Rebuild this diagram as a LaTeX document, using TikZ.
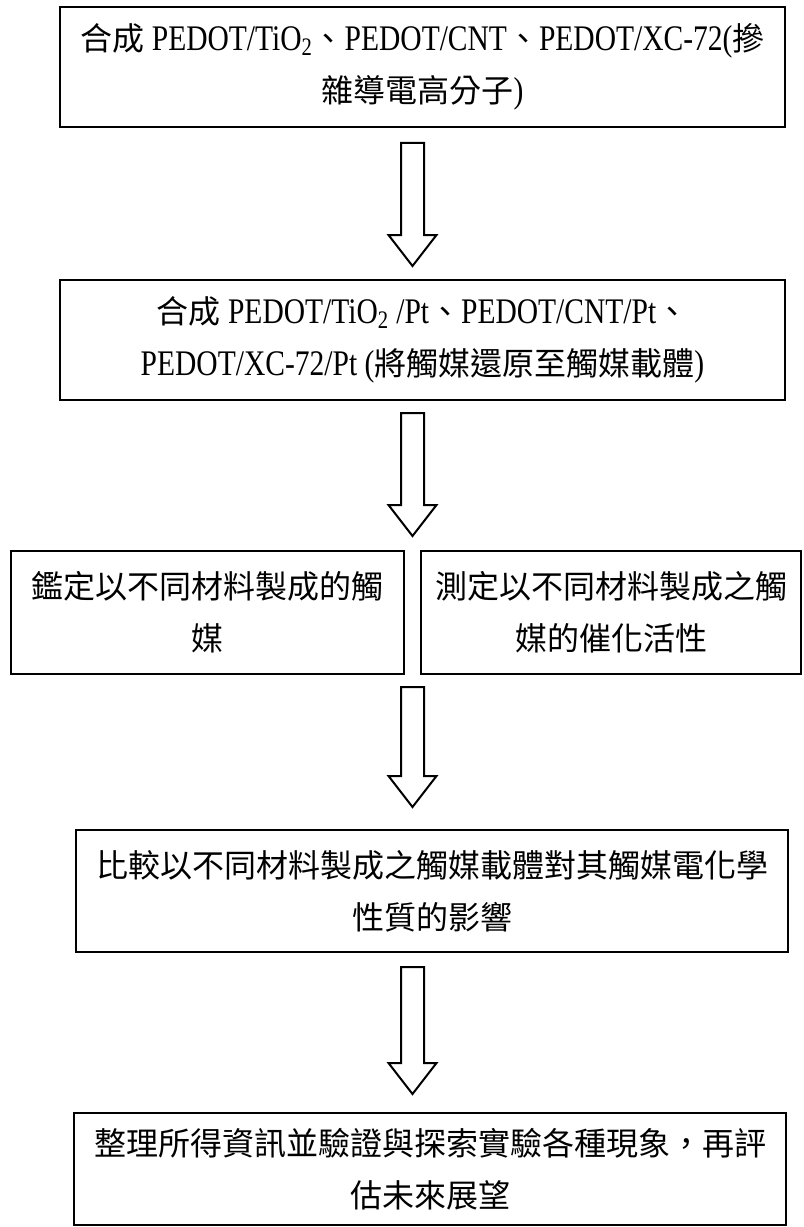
\documentclass[tikz,border=0pt]{standalone}
\usepackage{fontspec}
\setmainfont[FakeStretch=0.82]{Liberation Serif}
\newfontfamily\cjk{Noto Sans CJK TC}
\newcommand\zh[1]{{\cjk\fontsize{24pt}{39pt}\selectfont #1}}
\usetikzlibrary{calc}
\tikzset{
  box/.style={draw, line width=1.5pt, rectangle, align=center, inner sep=0pt,
              font=\fontsize{27pt}{39pt}\selectfont},
  blockarrow/.style={draw, line width=1.5pt, line join=miter, fill=white},
}
\newcommand\blockarr[2]{%
  \draw[blockarrow] let \p1=#1, \p2=#2 in
    (\x1-8.625pt,\y1) -- (\x1+8.625pt,\y1) -- (\x1+8.625pt,\y2+23.25pt)
    -- (\x1+18pt,\y2+23.25pt) -- (\x1,\y2) -- (\x1-18pt,\y2+23.25pt)
    -- (\x1-8.625pt,\y2+23.25pt) -- cycle;}
\begin{document}
\begin{tikzpicture}[x=0.75pt,y=-0.75pt]
\useasboundingbox (0,0) rectangle (803,1227);
\coordinate (ax) at (412.5,0);
\node[box, minimum width=543.75pt, minimum height=90pt] (b1) at (422.5,67)
  {\zh{合成} PEDOT/TiO\textsubscript{2}\zh{、}PEDOT/CNT\zh{、}PEDOT/XC-72(\zh{摻}\\\zh{雜導電高分子})};
\node[box, minimum width=543.75pt, minimum height=90pt] (b2) at (422.5,340)
  {\zh{合成} PEDOT/TiO\textsubscript{2} /Pt\zh{、}PEDOT/CNT/Pt\zh{、}\\PEDOT/XC-72/Pt (\zh{將觸媒還原至觸媒載體})};
\node[box, minimum width=294.75pt, minimum height=92.25pt] (b3l) at (207.5,612.5)
  {\zh{鑑定以不同材料製成的觸}\\\zh{媒}};
\node[box, minimum width=285pt, minimum height=92.25pt] (b3r) at (611,612.5)
  {\zh{測定以不同材料製成之觸}\\\zh{媒的催化活性}};
\node[box, minimum width=534pt, minimum height=91.5pt] (b4) at (432,891)
  {\zh{比較以不同材料製成之觸媒載體對其觸媒電化學}\\\zh{性質的影響}};
\node[box, minimum width=534pt, minimum height=84pt] (b5) at (430,1169)
  {\zh{整理所得資訊並驗證與探索實驗各種現象，再評}\\\zh{估未來展望}};
\blockarr{($(b1.south -| ax)+(0,15)$)}{($(b2.north -| ax)+(0,-13)$)}
\blockarr{($(b2.south -| ax)+(0,12)$)}{($(b3l.north -| ax)+(0,-14)$)}
\blockarr{($(b3l.south -| ax)+(0,12)$)}{($(b4.north -| ax)+(0,-22)$)}
\blockarr{($(b4.south -| ax)+(0,14)$)}{($(b5.north -| ax)+(0,-18)$)}
\end{tikzpicture}
\end{document}
